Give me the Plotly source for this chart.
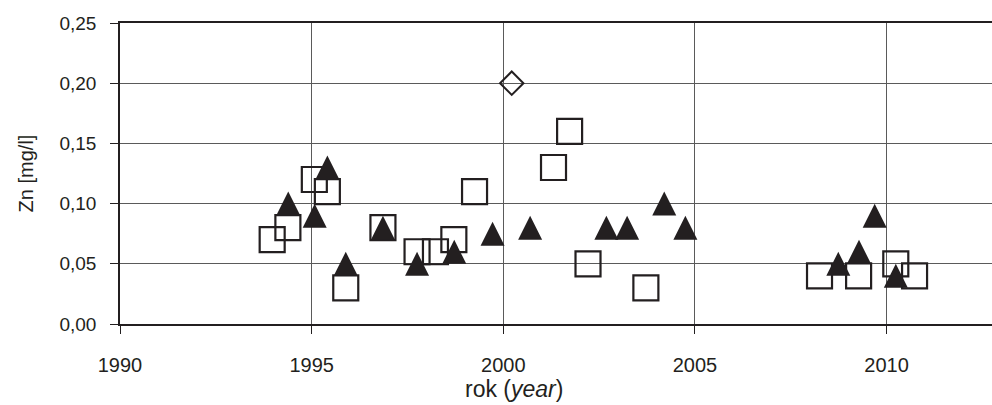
import plotly.graph_objects as go

# Zn concentration [mg/l] by sampling date (decimal years)
square_years = [1993.97, 1994.38, 1995.07, 1995.41, 1995.89, 1996.86, 1997.75, 1998.23,
                1998.71, 1999.25, 2001.31, 2001.73, 2002.21, 2003.72, 2008.25, 2009.27,
                2010.24, 2010.73]
square_zn = [0.07, 0.08, 0.12, 0.11, 0.03, 0.08, 0.06, 0.06,
             0.07, 0.11, 0.13, 0.16, 0.05, 0.03, 0.04, 0.04,
             0.05, 0.04]

triangle_years = [1994.39, 1995.08, 1995.41, 1995.89, 1996.86, 1997.75, 1998.72, 1999.72,
                  2000.70, 2002.69, 2003.23, 2004.20, 2004.75, 2008.74, 2009.28, 2009.69,
                  2010.24]
triangle_zn = [0.10, 0.09, 0.13, 0.05, 0.08, 0.05, 0.06, 0.075,
               0.08, 0.08, 0.08, 0.10, 0.08, 0.05, 0.06, 0.09,
               0.04]

diamond_years = [2000.22]
diamond_zn = [0.20]

x_tick_vals = [1990, 1995, 2000, 2005, 2010]
x_tick_text = ["1990", "1995", "2000", "2005", "2010"]
y_tick_vals = [0.00, 0.05, 0.10, 0.15, 0.20, 0.25]
y_tick_text = ["0,00", "0,05", "0,10", "0,15", "0,20", "0,25"]

INK = "#231f20"
GRID = "#5a5a5a"
FONT = "Arial, Liberation Sans, sans-serif"

fig = go.Figure()

fig.add_trace(go.Scatter(
    x=square_years, y=square_zn, mode="markers",
    marker=dict(symbol="square-open", size=25, color=INK,
                line=dict(width=2.2, color=INK)),
    hoverinfo="x+y",
))

fig.add_trace(go.Scatter(
    x=diamond_years, y=diamond_zn, mode="markers",
    marker=dict(symbol="diamond-open", size=18, color=INK,
                line=dict(width=2, color=INK)),
    hoverinfo="x+y",
))

# filled triangles, centred on the value (arrow glyph flipped upward)
tri_size = 24
fig.add_trace(go.Scatter(
    x=triangle_years, y=triangle_zn, mode="markers",
    marker=dict(symbol="arrow-down", size=tri_size, color=INK,
                angle=180, standoff=tri_size / 2,
                line=dict(width=0)),
    hoverinfo="x+y",
))

fig.update_layout(
    width=992, height=405,
    margin=dict(l=120, r=0, t=23, b=81, pad=0),
    paper_bgcolor="white", plot_bgcolor="white",
    showlegend=False,
    font=dict(family=FONT, color=INK, size=19),
    annotations=[dict(
        text="rok (<i>year</i>)", xref="paper", yref="paper",
        x=0.452, y=-0.216, xanchor="center", yanchor="middle",
        showarrow=False, font=dict(size=23, family=FONT, color=INK),
    )],
)

fig.update_xaxes(
    range=[1990, 2012.75],
    tickvals=x_tick_vals, ticktext=x_tick_text,
    showgrid=True, gridcolor=GRID, gridwidth=1,
    showline=True, linecolor=INK, linewidth=1.5, mirror=True,
    ticks="outside", ticklen=8, tickwidth=1, tickcolor=INK,
    ticklabelstandoff=14,
    tickfont=dict(size=20, family=FONT, color=INK),
    zeroline=False,
)

fig.update_yaxes(
    range=[0, 0.25],
    tickvals=y_tick_vals, ticktext=y_tick_text,
    showgrid=True, gridcolor=GRID, gridwidth=1,
    showline=True, linecolor=INK, linewidth=1.5,
    ticks="outside", ticklen=8, tickwidth=1, tickcolor=INK,
    ticklabelstandoff=10,
    tickfont=dict(size=19, family=FONT, color=INK),
    zeroline=False,
    title=dict(text="Zn [mg/l]", font=dict(size=20, family=FONT, color=INK),
               standoff=20),
)

fig.write_html("out.html")
